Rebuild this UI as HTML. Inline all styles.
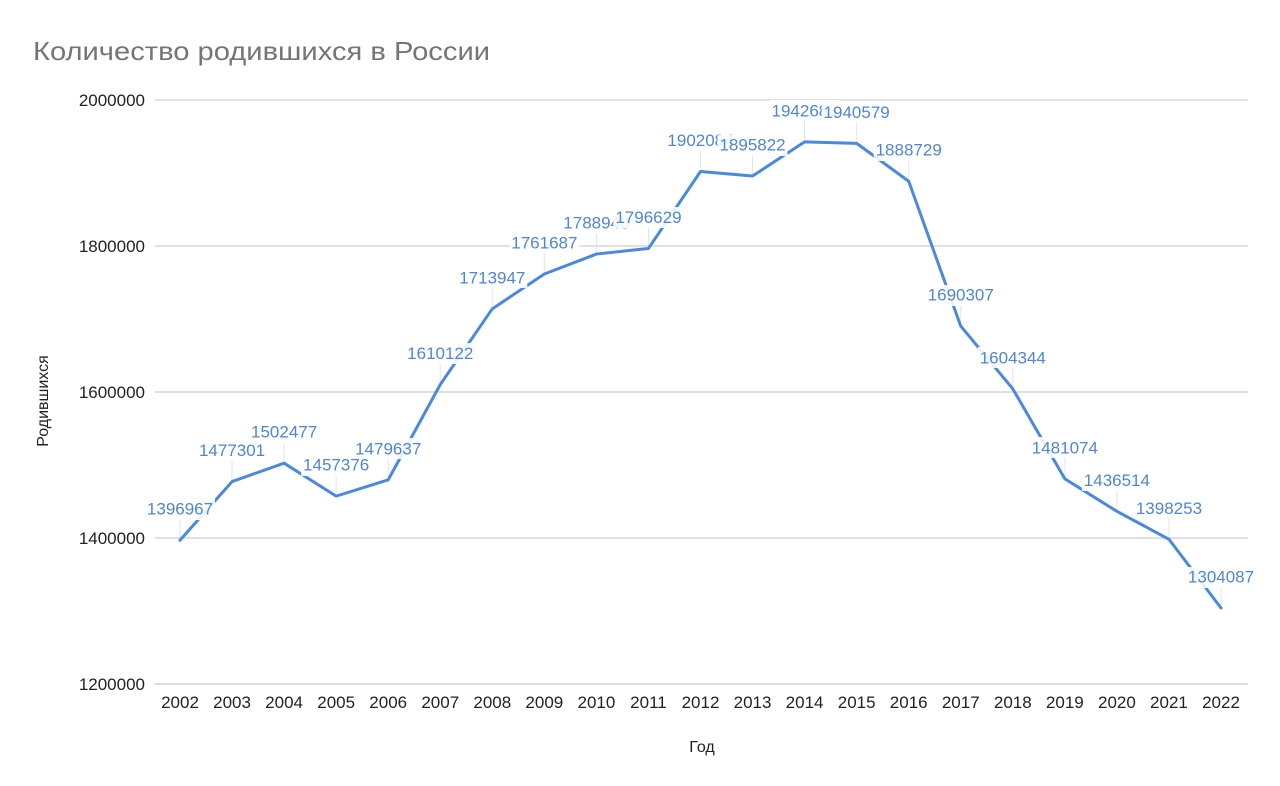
<!DOCTYPE html>
<html>
<head>
<meta charset="utf-8">
<style>
  html,body{margin:0;padding:0;background:#fff;}
  svg{display:block;}
  text{font-family:"Liberation Sans","DejaVu Sans",sans-serif;}
</style>
</head>
<body>
<svg width="1280" height="786" viewBox="0 0 1280 786" xmlns="http://www.w3.org/2000/svg">
  <rect width="1280" height="786" fill="#fff"/>
  <!-- Title -->
  <text x="33" y="60" font-size="26" fill="#757575" textLength="457" lengthAdjust="spacingAndGlyphs">Количество родившихся в России</text>

  <!-- Gridlines -->
  <g stroke="#d6d6d6" stroke-width="1.5">
    <line x1="155" y1="100" x2="1248" y2="100"/>
    <line x1="155" y1="246" x2="1248" y2="246"/>
    <line x1="155" y1="392" x2="1248" y2="392"/>
    <line x1="155" y1="538" x2="1248" y2="538"/>
    <line x1="155" y1="684" x2="1248" y2="684" stroke="#cfcfcf"/>
  </g>

  <!-- Y tick labels -->
  <g font-size="17" fill="#222" text-anchor="end">
    <text x="145" y="106">2000000</text>
    <text x="145" y="252">1800000</text>
    <text x="145" y="398">1600000</text>
    <text x="145" y="544">1400000</text>
    <text x="145" y="690">1200000</text>
  </g>

  <!-- X tick labels -->
  <g font-size="17" fill="#222" text-anchor="middle">
    <text x="180" y="708">2002</text>
    <text x="232.05" y="708">2003</text>
    <text x="284.1" y="708">2004</text>
    <text x="336.15" y="708">2005</text>
    <text x="388.2" y="708">2006</text>
    <text x="440.25" y="708">2007</text>
    <text x="492.3" y="708">2008</text>
    <text x="544.35" y="708">2009</text>
    <text x="596.4" y="708">2010</text>
    <text x="648.45" y="708">2011</text>
    <text x="700.5" y="708">2012</text>
    <text x="752.55" y="708">2013</text>
    <text x="804.6" y="708">2014</text>
    <text x="856.65" y="708">2015</text>
    <text x="908.7" y="708">2016</text>
    <text x="960.75" y="708">2017</text>
    <text x="1012.8" y="708">2018</text>
    <text x="1064.85" y="708">2019</text>
    <text x="1116.9" y="708">2020</text>
    <text x="1168.95" y="708">2021</text>
    <text x="1221" y="708">2022</text>
  </g>

  <!-- Axis titles -->
  <text x="702" y="752" font-size="16" fill="#222" text-anchor="middle">Год</text>
  <text transform="translate(48,401) rotate(-90)" font-size="16" fill="#222" text-anchor="middle">Родившихся</text>

  <!-- Leader lines -->
  <g stroke="#e4e4e4" stroke-width="1">
    <line x1="180" y1="520" x2="180" y2="540"/>
    <line x1="232.05" y1="461" x2="232.05" y2="481"/>
    <line x1="284.1" y1="443" x2="284.1" y2="463"/>
    <line x1="336.15" y1="476" x2="336.15" y2="496"/>
    <line x1="388.2" y1="459" x2="388.2" y2="480"/>
    <line x1="440.25" y1="364" x2="440.25" y2="384"/>
    <line x1="492.3" y1="288" x2="492.3" y2="308"/>
    <line x1="544.35" y1="253" x2="544.35" y2="274"/>
    <line x1="596.4" y1="234" x2="596.4" y2="254"/>
    <line x1="648.45" y1="228" x2="648.45" y2="248"/>
    <line x1="700.5" y1="151" x2="700.5" y2="171"/>
    <line x1="752.55" y1="156" x2="752.55" y2="176"/>
    <line x1="804.6" y1="121" x2="804.6" y2="142"/>
    <line x1="856.65" y1="123" x2="856.65" y2="143"/>
    <line x1="908.7" y1="161" x2="908.7" y2="181"/>
    <line x1="960.75" y1="306" x2="960.75" y2="326"/>
    <line x1="1012.8" y1="368" x2="1012.8" y2="389"/>
    <line x1="1064.85" y1="458" x2="1064.85" y2="479"/>
    <line x1="1116.9" y1="491" x2="1116.9" y2="511"/>
    <line x1="1168.95" y1="519" x2="1168.95" y2="539"/>
    <line x1="1221" y1="588" x2="1221" y2="608"/>
  </g>

  <!-- Series line -->
  <polyline fill="none" stroke="#4a89dc" stroke-width="3" stroke-linejoin="round" stroke-linecap="round"
    points="180,540.21 232.05,481.57 284.1,463.19 336.15,496.12 388.2,479.87 440.25,384.61 492.3,308.82 544.35,273.97 596.4,254.07 648.45,248.46 700.5,171.48 752.55,176.05 804.6,141.84 856.65,143.38 908.7,181.23 960.75,326.08 1012.8,388.83 1064.85,478.82 1116.9,511.34 1168.95,539.28 1221,608.02"/>

  <!-- Data labels -->
  <g font-size="17" fill="#4f86d4" text-anchor="middle">
    <rect x="145" y="499" width="70" height="21" fill="#fff" fill-opacity="0.88"/><text x="180" y="514.7">1396967</text>
    <rect x="197.05" y="440" width="70" height="21" fill="#fff" fill-opacity="0.88"/><text x="232.05" y="456.1">1477301</text>
    <rect x="249.1" y="422" width="70" height="21" fill="#fff" fill-opacity="0.88"/><text x="284.1" y="437.7">1502477</text>
    <rect x="301.15" y="455" width="70" height="21" fill="#fff" fill-opacity="0.88"/><text x="336.15" y="470.6">1457376</text>
    <rect x="353.2" y="438" width="70" height="21" fill="#fff" fill-opacity="0.88"/><text x="388.2" y="454.4">1479637</text>
    <rect x="405.25" y="343" width="70" height="21" fill="#fff" fill-opacity="0.88"/><text x="440.25" y="359.1">1610122</text>
    <rect x="457.3" y="267" width="70" height="21" fill="#fff" fill-opacity="0.88"/><text x="492.3" y="283.3">1713947</text>
    <rect x="509.35" y="232" width="70" height="21" fill="#fff" fill-opacity="0.88"/><text x="544.35" y="248.5">1761687</text>
    <rect x="561.4" y="213" width="70" height="21" fill="#fff" fill-opacity="0.88"/><text x="596.4" y="228.6">1788948</text>
    <rect x="613.45" y="207" width="70" height="21" fill="#fff" fill-opacity="0.88"/><text x="648.45" y="223">1796629</text>
    <rect x="665.5" y="130" width="70" height="21" fill="#fff" fill-opacity="0.88"/><text x="700.5" y="146">1902084</text>
    <rect x="717.55" y="135" width="70" height="21" fill="#fff" fill-opacity="0.88"/><text x="752.55" y="150.6">1895822</text>
    <rect x="769.6" y="100" width="70" height="21" fill="#fff" fill-opacity="0.88"/><text x="804.6" y="116.3">1942683</text>
    <rect x="821.65" y="102" width="70" height="21" fill="#fff" fill-opacity="0.88"/><text x="856.65" y="117.9">1940579</text>
    <rect x="873.7" y="140" width="70" height="21" fill="#fff" fill-opacity="0.88"/><text x="908.7" y="155.7">1888729</text>
    <rect x="925.75" y="285" width="70" height="21" fill="#fff" fill-opacity="0.88"/><text x="960.75" y="300.6">1690307</text>
    <rect x="977.8" y="347" width="70" height="21" fill="#fff" fill-opacity="0.88"/><text x="1012.8" y="363.3">1604344</text>
    <rect x="1029.85" y="437" width="70" height="21" fill="#fff" fill-opacity="0.88"/><text x="1064.85" y="453.3">1481074</text>
    <rect x="1081.9" y="470" width="70" height="21" fill="#fff" fill-opacity="0.88"/><text x="1116.9" y="485.8">1436514</text>
    <rect x="1133.95" y="498" width="70" height="21" fill="#fff" fill-opacity="0.88"/><text x="1168.95" y="513.8">1398253</text>
    <rect x="1186" y="567" width="70" height="21" fill="#fff" fill-opacity="0.88"/><text x="1221" y="582.5">1304087</text>
  </g>
</svg>
</body>
</html>
